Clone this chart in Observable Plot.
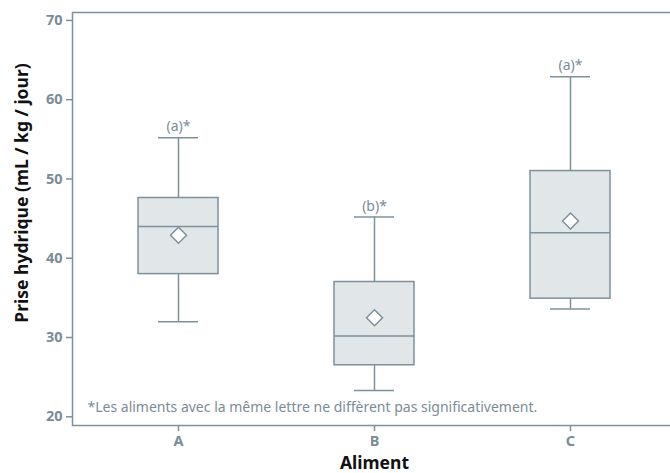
<!DOCTYPE html>
<html><head><meta charset="utf-8">
<script src="https://cdn.jsdelivr.net/npm/d3@7"></script>
<script src="https://cdn.jsdelivr.net/npm/@observablehq/plot@0.6"></script>
<style>
body{margin:0;background:#fff;}
svg{font-family:"Noto Sans",sans-serif;}
</style></head><body>
<div id="chart"></div>
<script>
const categories = ["A", "B", "C"];
const lows = [32.0, 23.3, 33.6];
const q1s = [38.0, 26.5, 34.9];
const medians = [44.0, 30.2, 43.2];
const q3s = [47.6, 37.0, 51.0];
const highs = [55.2, 45.2, 62.9];
const means = [42.9, 32.5, 44.7];
const letters = ["(a)*", "(b)*", "(a)*"];
const yTicks = [20, 30, 40, 50, 60, 70];
const note = "*Les aliments avec la même lettre ne diffèrent pas significativement.";
const yTitle = "Prise hydrique (mL / kg / jour)";
const xTitle = "Aliment";

const data = categories.map((c, i) => ({
  cat: c, low: lows[i], q1: q1s[i], med: medians[i], q3: q3s[i], high: highs[i], mean: means[i], letter: letters[i]
}));

const stroke = "#7d919c";
const fill = "#e1e6e9";
const textGray = "#7a8c98";

const chart = Plot.plot({
  width: 670,
  height: 473,
  marginLeft: 72,
  marginRight: -6,
  marginTop: 12,
  marginBottom: 48,
  x: {type: "band", domain: categories, paddingInner: 0.594, paddingOuter: 0.33, label: null},
  y: {domain: [18.9, 71.0], label: null},
  marks: [
    Plot.frame({stroke: stroke, strokeWidth: 1.5}),
    Plot.axisY({ticks: yTicks, tickSize: 6, tickPadding: 4, fontSize: 14.5, fontWeight: "bold", fill: textGray, stroke: stroke, strokeWidth: 1.5, label: null}),
    Plot.axisX({tickSize: 6, tickPadding: 4, fontSize: 14.5, fontWeight: "bold", fill: textGray, stroke: stroke, strokeWidth: 1.5, label: null}),
    Plot.ruleX(data, {x: "cat", y1: "low", y2: "high", stroke: stroke, strokeWidth: 1.5}),
    Plot.tickY(data, {x: "cat", y: "low", stroke: stroke, strokeWidth: 1.5, insetLeft: 20, insetRight: 20}),
    Plot.tickY(data, {x: "cat", y: "high", stroke: stroke, strokeWidth: 1.5, insetLeft: 20, insetRight: 20}),
    Plot.barY(data, {x: "cat", y1: "q1", y2: "q3", fill: fill, stroke: stroke, strokeWidth: 1.5}),
    Plot.tickY(data, {x: "cat", y: "med", stroke: stroke, strokeWidth: 1.5}),
    Plot.dot(data, {x: "cat", y: "mean", symbol: "diamond2", r: 7.2, fill: "white", stroke: stroke, strokeWidth: 1.5}),
    Plot.text(data, {x: "cat", y: "high", text: "letter", dy: -11, fontSize: 14, fill: textGray}),
    Plot.text([note], {frameAnchor: "bottom-left", dx: 15, dy: -18, lineAnchor: "middle", textAnchor: "start", fontSize: 14, fill: textGray}),
    Plot.text([yTitle], {frameAnchor: "left", dx: -50, dy: -26, rotate: -90, textAnchor: "middle", lineAnchor: "middle", fontSize: 17.5, fontWeight: "bold", fill: "#111"}),
    Plot.text([xTitle], {frameAnchor: "bottom", dy: 43, lineAnchor: "bottom", fontSize: 17.5, fontWeight: "bold", fill: "#111"})
  ]
});
document.getElementById("chart").appendChild(chart);
</script>
</body></html>
